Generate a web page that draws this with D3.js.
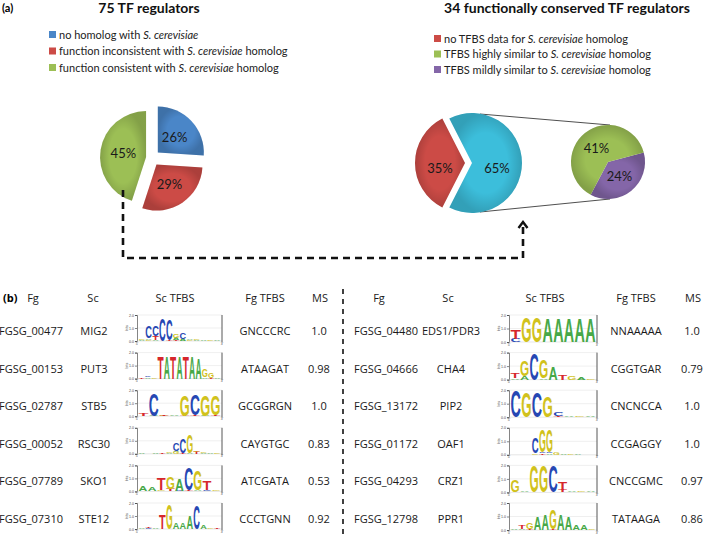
<!DOCTYPE html>
<html><head><meta charset="utf-8">
<script src="https://cdn.jsdelivr.net/npm/d3@7"></script>
<style>body{margin:0;background:#fff} svg{display:block}</style>
</head><body>
<script>
// ---------------- DATA ----------------
const pie1Values = [26, 29, 45];
const pie1Colors = ["#4a86c8", "#cc4b46", "#9cbf55"];
const legend1 = [["no homolog with ", "S. cerevisiae", ""],
                 ["function inconsistent with ", "S. cerevisiae", " homolog"],
                 ["function consistent with ", "S. cerevisiae", " homolog"]];
const legend1Colors = ["#4a86c8", "#cc4b46", "#9cbf55"];

const pie2Values = [65, 35];
const pie2Colors = ["#3cbedb", "#cc4b46"];
const pie3Values = [24, 41];
const pie3Colors = ["#8466a8", "#9cbf55"];
const legend2 = [["no TFBS data for ", "S. cerevisiae", " homolog"],
                 ["TFBS highly similar to ", "S. cerevisiae", " homolog"],
                 ["TFBS mildly similar to ", "S. cerevisiae", " homolog"]];
const legend2Colors = ["#cc4b46", "#9cbf55", "#8466a8"];

const title1 = "75 TF regulators";
const title2 = "34 functionally conserved TF regulators";

const headers = ["Fg", "Sc", "Sc TFBS", "Fg TFBS", "MS"];
const fgLeft = ["FGSG_00477", "FGSG_00153", "FGSG_02787", "FGSG_00052", "FGSG_07789", "FGSG_07310"];
const scLeft = ["MIG2", "PUT3", "STB5", "RSC30", "SKO1", "STE12"];
const fgTfbsLeft = ["GNCCCRC", "ATAAGAT", "GCGGRGN", "CAYGTGC", "ATCGATA", "CCCTGNN"];
const msLeft = ["1.0", "0.98", "1.0", "0.83", "0.53", "0.92"];
const fgRight = ["FGSG_04480", "FGSG_04666", "FGSG_13172", "FGSG_01172", "FGSG_04293", "FGSG_12798"];
const scRight = ["EDS1/PDR3", "CHA4", "PIP2", "OAF1", "CRZ1", "PPR1"];
const fgTfbsRight = ["NNAAAAA", "CGGTGAR", "CNCNCCA", "CCGAGGY", "CNCCGMC", "TATAAGA"];
const msRight = ["1.0", "0.79", "1.0", "1.0", "0.97", "0.86"];

// sequence logos: columns, each a stack [letter, bits] from bottom to top
const logosLeft = [
  [[["A",0.08],["G",0.06]], [["G",0.1],["A",0.1],["C",0.95]], [["A",0.1],["T",0.3],["C",0.8]], [["C",1.7]], [["T",0.1],["C",1.6]],
   [["T",0.1],["A",0.15],["G",0.3]], [["A",0.15],["C",0.55]], [["G",0.1],["A",0.1]], [["A",0.08],["G",0.06]], [["A",0.06]], [["G",0.05]], [["A",0.05]]],
  [[["T",0.1]], [["A",0.1],["C",0.05]], [["G",0.1]], [["T",1.7]], [["A",1.7]], [["T",1.7]], [["A",1.7]], [["T",1.7]], [["A",1.7]], [["A",1.6]],
   [["A",0.1],["G",0.6]], [["T",0.05],["G",0.35]], [["A",0.05]]],
  [[["T",0.2]], [["A",0.05],["C",1.7]], [["G",0.05],["T",0.08]], [["A",0.1]], [["T",0.05],["G",1.6]], [["T",0.08],["C",1.65]], [["A",0.05],["G",1.6]], [["T",0.06],["G",1.55]]],
  [[["A",0.04]], [["G",0.03]], [["A",0.04]], [["T",0.05]], [["A",0.1],["G",0.1]], [["G",0.15],["A",0.1],["C",0.6]], [["T",0.1],["C",1.1]],
   [["A",0.1],["G",1.4]], [["T",0.15],["G",0.1]], [["A",0.1],["G",0.08]], [["A",0.05]], [["G",0.04]]],
  [[["A",0.35]], [["A",0.3]], [["G",0.1],["T",0.95]], [["T",0.15],["G",0.9]], [["C",0.05],["A",0.95]], [["T",0.1],["C",1.75]], [["A",0.1],["G",1.55]], [["C",0.1],["T",0.7]], [["G",0.08]]],
  [[["A",0.05]], [["C",0.08],["T",0.06]], [["A",0.06]], [["T",1.1]], [["G",1.9]], [["A",0.5]], [["A",0.5]], [["A",1.0]], [["C",1.8]], [["A",0.3]], [["G",0.06]], [["T",0.05]]]
];
const logosRight = [
  [[["C",0.25],["T",0.7]], [["G",1.9]], [["G",1.9]], [["A",1.75]], [["A",1.75]], [["A",1.75]], [["A",1.75]], [["A",1.75]]],
  [[["A",0.1],["T",0.4]], [["A",0.25],["G",1.2]], [["C",2.0]], [["A",0.1],["G",1.4]], [["A",1.0]], [["T",0.4]], [["G",0.3]], [["A",0.15]], [["G",0.05]]],
  [[["C",2.0]], [["G",1.85]], [["C",1.85]], [["G",1.55]], [["T",0.08],["C",0.3]], [["A",0.1]], [["G",0.06]], [["A",0.05]]],
  [[["A",0.03]], [["G",0.03]], [["A",0.03]], [["G",0.1],["C",1.2]], [["T",0.1],["C",0.1],["G",1.7]], [["A",0.1],["C",0.1],["G",1.7]], [["G",0.15]], [["A",0.12]], [["G",0.05]], [["A",0.04]], [["G",0.03]], [["A",0.03]]],
  [[["G",0.9]], [["A",0.1]], [["G",2.0]], [["G",2.0]], [["C",2.0]], [["T",0.15],["T",0.6]], [["A",0.1]], [["G",0.06]], [["A",0.05]]],
  [[["A",0.04]], [["A",0.1],["T",0.25]], [["T",0.1],["G",0.5]], [["A",1.0]], [["A",1.2]], [["T",0.1],["G",1.5]], [["A",1.2]], [["A",1.0]], [["A",0.35]], [["A",0.35]], [["G",0.04]]]
];
const letterColors = {A: "#47a847", C: "#2647b3", G: "#d1c21c", T: "#d6272c"};

// ---------------- DRAW ----------------
const W = 709, H = 534;
const svg = d3.select("body").append("svg").attr("width", W).attr("height", H);
const topFont = "Lato, 'Open Sans', sans-serif";
const tabFont = "'Open Sans', Lato, sans-serif";

svg.append("text").attr("x", 2).attr("y", 12).attr("font-family", topFont).attr("font-weight", "bold")
  .attr("font-size", 11).text("(a)");
svg.append("text").attr("x", 149).attr("y", 13).attr("text-anchor", "middle").attr("font-family", topFont)
  .attr("font-weight", "bold").attr("font-size", 14).attr("fill", "#111").text(title1);
svg.append("text").attr("x", 567).attr("y", 13).attr("text-anchor", "middle").attr("font-family", topFont)
  .attr("font-weight", "bold").attr("font-size", 14).attr("fill", "#111").text(title2);

function legend(items, colors, x, y0, dy) {
  items.forEach((it, i) => {
    const y = y0 + i * dy;
    svg.append("rect").attr("x", x).attr("y", y - 4).attr("width", 7).attr("height", 7).attr("fill", colors[i]);
    const t = svg.append("text").attr("x", x + 10).attr("y", y + 3.5).attr("font-family", topFont)
      .attr("font-size", 11).attr("fill", "#222");
    t.append("tspan").text(it[0]);
    t.append("tspan").attr("font-style", "italic").text(it[1]);
    t.append("tspan").text(it[2]);
  });
}
legend(legend1, legend1Colors, 49, 35, 16.5);
legend(legend2, legend2Colors, 434, 39, 15.5);

// shading gradient
const defs = svg.append("defs");
function shade(id) {
  const g = defs.append("radialGradient").attr("id", id);
  g.append("stop").attr("offset", "0.6").attr("stop-color", "#000").attr("stop-opacity", 0);
  g.append("stop").attr("offset", "1").attr("stop-color", "#000").attr("stop-opacity", 0.16);
}
shade("shadeG");

function drawPie(values, colors, cx, cy, r, startAngle, offsets, labelDy) {
  const pie = d3.pie().sort(null).startAngle(startAngle).endAngle(startAngle + 2 * Math.PI);
  const arc = d3.arc().innerRadius(0).outerRadius(r);
  const g = svg.append("g");
  pie(values).forEach((d, i) => {
    const mid = (d.startAngle + d.endAngle) / 2;
    const ox = cx + offsets[i] * Math.sin(mid), oy = cy - offsets[i] * Math.cos(mid);
    const s = g.append("g").attr("transform", `translate(${ox},${oy})`);
    s.append("path").attr("d", arc(d)).attr("fill", colors[i]);
    s.append("path").attr("d", arc(d)).attr("fill", "url(#shadeG)");
    const c = arc.centroid(d);
    s.append("text").attr("x", c[0]).attr("y", c[1] + labelDy).attr("text-anchor", "middle")
      .attr("dominant-baseline", "central").attr("font-family", topFont).attr("font-size", 13)
      .attr("fill", "#1a1a1a").text(d.data + "%");
  });
}
drawPie(pie1Values, pie1Colors, 152, 158, 46, 0, [8, 8, 6], 0);

// connector lines between big and small pies
const p2 = {cx: 470, cy: 163, r: 50}, p3 = {cx: 608, cy: 162, r: 37};
svg.append("line").attr("x1", p2.cx + 10).attr("y1", p2.cy - p2.r + 1).attr("x2", p3.cx + 2).attr("y2", p3.cy - p3.r)
  .attr("stroke", "#222").attr("stroke-width", 0.8);
svg.append("line").attr("x1", p2.cx + 10).attr("y1", p2.cy + p2.r - 1).attr("x2", p3.cx + 2).attr("y2", p3.cy + p3.r)
  .attr("stroke", "#222").attr("stroke-width", 0.8);

const a2start = -(pie2Values[0] / d3.sum(pie2Values)) * Math.PI + Math.PI / 2;
drawPie(pie2Values, pie2Colors, p2.cx, p2.cy, p2.r, a2start, [2, 5], 5);
const a3start = 75 * Math.PI / 180;
drawPie(pie3Values, pie3Colors, p3.cx, p3.cy, p3.r, a3start, [0, 0], 0);

// dashed arrow
svg.append("path").attr("d", "M123,190 V258 H523 V227").attr("fill", "none").attr("stroke", "#111")
  .attr("stroke-width", 2.6).attr("stroke-dasharray", "7,5");
svg.append("path").attr("d", "M518.5,228 L523,222 L527.5,228").attr("fill", "none").attr("stroke", "#111")
  .attr("stroke-width", 2.4);

// ---------------- PART B ----------------
svg.append("text").attr("x", 3).attr("y", 302).attr("font-family", tabFont).attr("font-weight", "bold")
  .attr("font-size", 11).text("(b)");
svg.append("line").attr("x1", 343).attr("x2", 343).attr("y1", 289).attr("y2", 534)
  .attr("stroke", "#111").attr("stroke-width", 1.6).attr("stroke-dasharray", "5,5");

const rowY = d3.scaleLinear().domain([0, 5]).range([331, 519]);
const colsL = [31, 94, 177, 265, 319];
const colsR = [386, 451, 547, 636, 692];
const hdrL = [33, 93, 175, 265, 320];
const hdrR = [379, 448, 545, 636, 693];

function txt(x, y, s) {
  svg.append("text").attr("x", x).attr("y", y).attr("text-anchor", "middle").attr("font-family", tabFont)
    .attr("font-size", 11).attr("fill", "#1a1a1a").text(s);
}
headers.forEach((h, i) => { txt(hdrL[i], 302, h); txt(hdrR[i], 302, h); });

function rows(fg, sc, fgt, ms, cols) {
  fg.forEach((v, i) => {
    const y = rowY(i) + 4;
    txt(cols[0], y, v); txt(cols[1], y, sc[i]); txt(cols[3], y, fgt[i]); txt(cols[4], y, ms[i]);
  });
}
rows(fgLeft, scLeft, fgTfbsLeft, msLeft, colsL);
rows(fgRight, scRight, fgTfbsRight, msRight, colsR);

function drawLogo(cols, x0, x1, base, top) {
  const g = svg.append("g");
  const y = d3.scaleLinear().domain([0, 2]).range([base, top]);
  const x = d3.scaleBand().domain(d3.range(cols.length)).range([x0 + 1.5, x1 - 1.5]).paddingInner(0.03);
  g.selectAll("line.grid").data([1, 2]).join("line").attr("x1", x0).attr("x2", x1)
    .attr("y1", d => y(d)).attr("y2", d => y(d)).attr("stroke", "#e4e4e4").attr("stroke-width", 0.6);
  const ax = g.append("g").attr("transform", `translate(${x0},0)`)
    .call(d3.axisLeft(y).tickValues([0, 1, 2]).tickFormat(d3.format(".1f")).tickSize(2).tickPadding(1));
  ax.attr("font-size", 3.6).attr("font-family", "Liberation Sans, sans-serif");
  ax.selectAll("path,line").attr("stroke", "#333").attr("stroke-width", 0.6);
  ax.selectAll("text").attr("fill", "#444");
  g.append("text").attr("transform", `translate(${x0 - 9},${(base + top) / 2}) rotate(-90)`)
    .attr("text-anchor", "middle").attr("font-size", 3.6).attr("font-family", "Liberation Sans, sans-serif")
    .attr("fill", "#444").text("bits");
  g.append("line").attr("x1", x0).attr("x2", x1).attr("y1", base).attr("y2", base).attr("stroke", "#ccc").attr("stroke-width", 0.5);
  g.append("line").attr("x1", x1).attr("x2", x1).attr("y1", top).attr("y2", base + 1).attr("stroke", "#444").attr("stroke-width", 0.9);
  g.append("text").attr("x", x0).attr("y", base + 3.6).attr("font-size", 3.4).attr("text-anchor", "middle")
    .attr("font-family", "Liberation Sans, sans-serif").attr("fill", "#444").text("5'");
  g.append("text").attr("x", x1).attr("y", base + 3.6).attr("font-size", 3.4).attr("text-anchor", "middle")
    .attr("font-family", "Liberation Sans, sans-serif").attr("fill", "#444").text("3'");
  cols.forEach((stack, i) => {
    let acc = 0;
    stack.forEach(([L, b]) => {
      const yb = y(acc), yt = y(acc + b);
      acc += b;
      const t = g.append("text").text(L).attr("font-family", "Liberation Sans, Arial, sans-serif")
        .attr("font-weight", "bold").attr("font-size", 10).attr("fill", letterColors[L]);
      const w = t.node().getComputedTextLength() || 7;
      t.attr("transform", `translate(${x(i)},${yb}) scale(${x.bandwidth() / w},${Math.max(yb - yt, 0.2) / 7.2})`);
    });
  });
}
logosLeft.forEach((cols, i) => drawLogo(cols, 137, 222, rowY(i) + 10, rowY(i) - 16));
logosRight.forEach((cols, i) => drawLogo(cols, 509, 597, rowY(i) + 11, rowY(i) - 16));
</script>
</body></html>
